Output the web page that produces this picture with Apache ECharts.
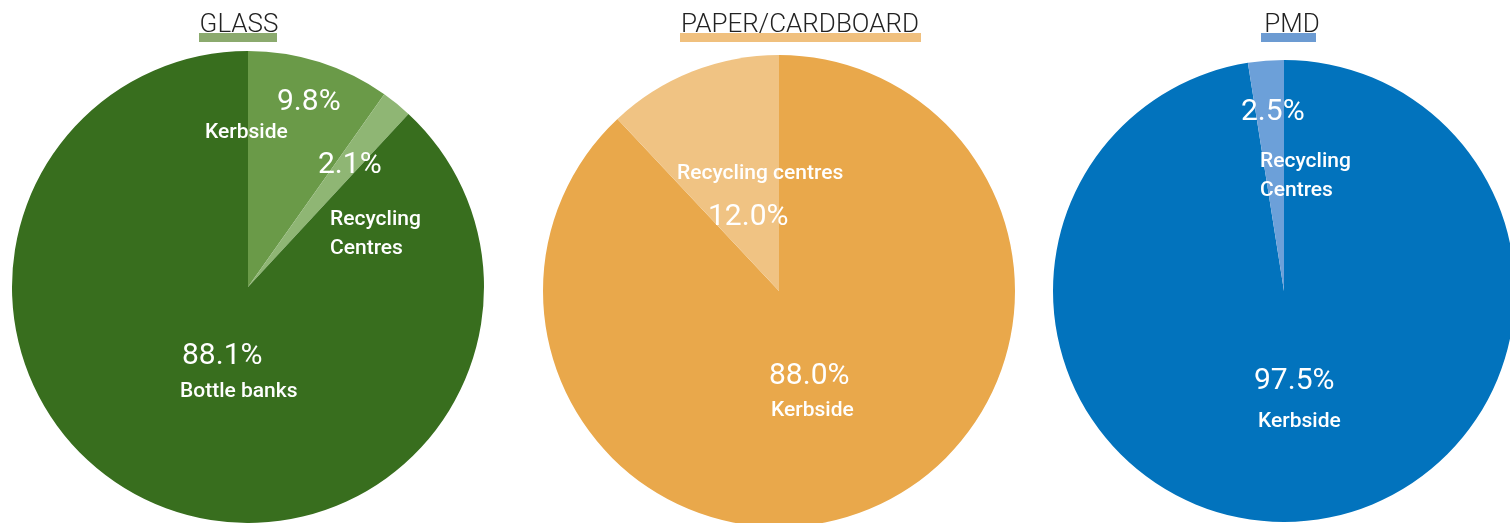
<!DOCTYPE html>
<html>
<head>
<meta charset="utf-8">
<script src="https://cdn.jsdelivr.net/npm/echarts@6/dist/echarts.min.js"></script>
<style>
html,body{margin:0;padding:0;background:#fff;}
#c{width:1510px;height:523px;}
</style>
</head>
<body>
<div id="c"></div>
<script>
// ---- data ----
const titles = ['GLASS', 'PAPER/CARDBOARD', 'PMD'];
const glassNames = ['Kerbside', 'Recycling\nCentres', 'Bottle banks'];
const glassValues = [9.8, 2.1, 88.1];
const paperNames = ['Kerbside', 'Recycling centres'];
const paperValues = [88.0, 12.0];
const pmdNames = ['Kerbside', 'Recycling\nCentres'];
const pmdValues = [97.5, 2.5];

// ---- layout / style ----
const pies = [
  { names: glassNames, values: glassValues, center: [248, 287], radius: 236,
    colors: ['#6A9A48', '#8FB674', '#386E1E'], underline: '#8BAA6E',
    titleX: 234, lineX: 199, lineW: 78,
    pctPos: [[277, 102], [318, 165], [182, 356]],
    namePos: [[205, 133], [330, 234], [180, 392]] },
  { names: paperNames, values: paperValues, center: [779, 291], radius: 236,
    colors: ['#E9A84B', '#F0C383'], underline: '#F0C07E',
    titleX: 795, lineX: 680, lineW: 241,
    pctPos: [[769, 376], [708, 217]],
    namePos: [[771, 411], [677, 174]] },
  { names: pmdNames, values: pmdValues, center: [1284, 291], radius: 231,
    colors: ['#0273BD', '#6CA0D9'], underline: '#6C9BD2',
    titleX: 1287, lineX: 1261, lineW: 55,
    pctPos: [[1254, 381], [1241, 112]],
    namePos: [[1258, 422], [1260, 176]] }
];

const FONT = 'Roboto, "Noto Sans", sans-serif';
const series = [];
pies.forEach((p, i) => {
  const data = p.values.map((v, k) => ({ name: p.names[k], value: v, itemStyle: { color: p.colors[k] } }));
  const base = {
    type: 'pie', center: p.center, radius: p.radius, startAngle: 90, clockwise: true,
    silent: true, animation: false, labelLine: { show: false },
    emphasis: { disabled: true }
  };
  series.push(Object.assign({}, base, {
    data: data,
    itemStyle: { borderWidth: 0 },
    label: { show: true, position: 'inside',
      formatter: (q) => q.value.toFixed(1) + '%',
      color: '#fff', fontFamily: FONT, fontSize: 30, fontWeight: 400 },
    labelLayout: (q) => ({ x: p.pctPos[q.dataIndex][0], y: p.pctPos[q.dataIndex][1], align: 'left', verticalAlign: 'middle' })
  }));
  series.push(Object.assign({}, base, {
    data: p.values.map((v, k) => ({ name: p.names[k], value: v })),
    itemStyle: { color: 'rgba(0,0,0,0)', borderWidth: 0 },
    label: { show: true, position: 'inside',
      formatter: (q) => q.name, lineHeight: 29,
      color: '#fff', fontFamily: FONT, fontSize: 21, fontWeight: 500 },
    labelLayout: (q) => ({ x: p.namePos[q.dataIndex][0], y: p.namePos[q.dataIndex][1], align: 'left', verticalAlign: 'middle' })
  }));
});

const chart = echarts.init(document.getElementById('c'), null, { renderer: 'canvas' });
chart.setOption({
  animation: false,
  title: pies.map((p, i) => ({
    text: titles[i], left: p.titleX, top: 7, textAlign: 'center',
    textStyle: { fontFamily: FONT, fontSize: 26, fontWeight: 300, color: '#222' }
  })),
  graphic: pies.map((p) => ({
    type: 'rect', shape: { x: p.lineX, y: 33, width: p.lineW, height: 9 },
    style: { fill: p.underline }, silent: true
  })),
  series: series
});
</script>
</body>
</html>
